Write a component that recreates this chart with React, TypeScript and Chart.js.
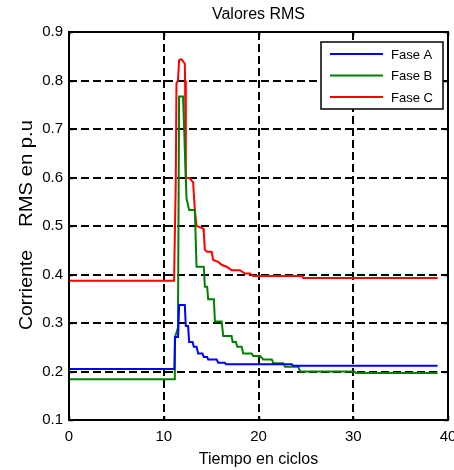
import React, { useEffect, useRef } from "react";
import { Chart, registerables } from "chart.js";

Chart.register(...registerables);

const TITLE = "Valores RMS";
const X_LABEL = "Tiempo en ciclos";
const Y_LABEL_A = "Corriente";
const Y_LABEL_B = "RMS en p.u";
const X_TICKS = [0, 10, 20, 30, 40];
const Y_TICKS = [0.1, 0.2, 0.3, 0.4, 0.5, 0.6, 0.7, 0.8, 0.9];
const SERIES_NAMES = ["Fase A", "Fase B", "Fase C"];
const SERIES_COLORS = ["#0000ff", "#008000", "#ff0000"];

const tA = [0, 11.12, 11.2, 11.51, 11.62, 12.22, 12.33, 12.57, 12.68, 13.04, 13.17, 13.46, 13.63, 14.09, 14.23, 14.58, 14.69, 15.58, 15.75, 16.46, 16.56, 23.51, 23.68, 38.9];
const vA = [0.205, 0.205, 0.271, 0.271, 0.337, 0.337, 0.294, 0.294, 0.261, 0.261, 0.251, 0.251, 0.237, 0.237, 0.23, 0.23, 0.225, 0.225, 0.218, 0.218, 0.215, 0.215, 0.212, 0.212];

const tB = [0, 11.1, 11.17, 11.5, 11.62, 12.04, 12.22, 12.33, 12.4, 12.68, 13.28, 13.46, 14.23, 14.34, 14.58, 14.69, 15.29, 15.4, 16.11, 16.28, 17.16, 17.27, 17.62, 17.76, 18.22, 18.39, 19.28, 19.45, 20.16, 20.51, 21.4, 21.57, 22.62, 22.8, 24.21, 24.39, 30.1, 30.3, 38.9];
const vB = [0.184, 0.184, 0.27, 0.29, 0.767, 0.767, 0.66, 0.6, 0.557, 0.533, 0.533, 0.416, 0.416, 0.375, 0.375, 0.349, 0.349, 0.303, 0.303, 0.273, 0.273, 0.261, 0.261, 0.251, 0.251, 0.237, 0.237, 0.232, 0.232, 0.225, 0.225, 0.217, 0.217, 0.21, 0.21, 0.2, 0.2, 0.197, 0.197];

const tC = [0, 11.09, 11.27, 11.34, 11.5, 11.62, 11.87, 12.22, 12.25, 12.33, 12.75, 13.1, 13.28, 13.46, 14.16, 14.23, 14.34, 14.58, 15.05, 15.22, 15.75, 16.11, 16.63, 17.16, 18.04, 18.57, 19.1, 19.45, 24.57, 24.74, 38.9];
const vC = [0.387, 0.387, 0.595, 0.794, 0.8, 0.842, 0.844, 0.835, 0.8, 0.6, 0.598, 0.59, 0.533, 0.5, 0.495, 0.485, 0.451, 0.447, 0.447, 0.43, 0.426, 0.42, 0.416, 0.409, 0.409, 0.402, 0.402, 0.397, 0.397, 0.393, 0.393];

const FONT = "'Liberation Sans', Arial, Helvetica, sans-serif";

const toPoints = (t: number[], v: number[]) => t.map((x, i) => ({ x, y: v[i] }));

const decorPlugin = {
  id: "decor",
  beforeDatasetsDraw(chart: any) {
    const { ctx, chartArea: a, scales } = chart;
    ctx.save();
    ctx.strokeStyle = "#000";
    ctx.lineWidth = 2;
    ctx.setLineDash([8, 4]);
    X_TICKS.slice(1, -1).forEach((t) => {
      const x = Math.round(scales.x.getPixelForValue(t));
      ctx.beginPath();
      ctx.moveTo(x, a.top);
      ctx.lineTo(x, a.bottom);
      ctx.stroke();
    });
    Y_TICKS.slice(1, -1).forEach((t) => {
      const y = Math.round(scales.y.getPixelForValue(t));
      ctx.beginPath();
      ctx.moveTo(a.left, y);
      ctx.lineTo(a.right, y);
      ctx.stroke();
    });
    ctx.restore();
  },
  afterDatasetsDraw(chart: any) {
    const { ctx, chartArea: a, scales } = chart;
    ctx.save();
    ctx.setLineDash([]);
    ctx.strokeStyle = "#000";
    // tick marks inside
    ctx.lineWidth = 1.5;
    X_TICKS.forEach((t) => {
      const x = Math.round(scales.x.getPixelForValue(t)) + 0.5;
      ctx.beginPath();
      ctx.moveTo(x, a.bottom);
      ctx.lineTo(x, a.bottom - 4);
      ctx.moveTo(x, a.top);
      ctx.lineTo(x, a.top + 4);
      ctx.stroke();
    });
    Y_TICKS.forEach((t) => {
      const y = Math.round(scales.y.getPixelForValue(t)) + 0.5;
      ctx.beginPath();
      ctx.moveTo(a.left, y);
      ctx.lineTo(a.left + 4, y);
      ctx.moveTo(a.right, y);
      ctx.lineTo(a.right - 4, y);
      ctx.stroke();
    });
    // frame
    ctx.lineWidth = 2;
    ctx.strokeRect(a.left, a.top, a.right - a.left, a.bottom - a.top);

    // legend
    const lx = 321, ly = 42, lw = 122, lh = 67;
    ctx.fillStyle = "#fff";
    ctx.fillRect(lx, ly, lw, lh);
    ctx.lineWidth = 1.5;
    ctx.strokeStyle = "#000";
    ctx.strokeRect(lx, ly, lw, lh);
    ctx.font = `13px ${FONT}`;
    ctx.textBaseline = "middle";
    ctx.textAlign = "left";
    chart.data.datasets.forEach((ds: any, i: number) => {
      const y = 54 + i * 21.5;
      ctx.strokeStyle = ds.borderColor;
      ctx.lineWidth = 2;
      ctx.beginPath();
      ctx.moveTo(330, y);
      ctx.lineTo(383, y);
      ctx.stroke();
      ctx.fillStyle = "#000";
      ctx.fillText(ds.label, 391, y + 1);
    });

    // title
    ctx.fillStyle = "#000";
    ctx.font = `16px ${FONT}`;
    ctx.textAlign = "center";
    ctx.textBaseline = "middle";
    ctx.fillText(TITLE, (a.left + a.right) / 2, 15);
    // x label
    ctx.fillText(X_LABEL, (a.left + a.right) / 2, 460);
    // y label (rotated)
    ctx.save();
    ctx.translate(32, 0);
    ctx.rotate(-Math.PI / 2);
    ctx.textAlign = "left";
    ctx.textBaseline = "alphabetic";
    ctx.font = `19px ${FONT}`;
    const wA = ctx.measureText(Y_LABEL_A).width;
    ctx.save();
    ctx.translate(-330, 0);
    ctx.scale(80 / wA, 1);
    ctx.fillText(Y_LABEL_A, 0, 0);
    ctx.restore();
    const wB = ctx.measureText(Y_LABEL_B).width;
    ctx.save();
    ctx.translate(-227, 0);
    ctx.scale(107 / wB, 1);
    ctx.fillText(Y_LABEL_B, 0, 0);
    ctx.restore();
    ctx.restore();
    ctx.restore();
  },
};

export default function App() {
  const ref = useRef<HTMLCanvasElement | null>(null);
  useEffect(() => {
    if (!ref.current) return;
    const chart = new Chart(ref.current, {
      type: "line",
      data: {
        datasets: [
          { label: SERIES_NAMES[0], data: toPoints(tA, vA), borderColor: SERIES_COLORS[0] },
          { label: SERIES_NAMES[1], data: toPoints(tB, vB), borderColor: SERIES_COLORS[1] },
          { label: SERIES_NAMES[2], data: toPoints(tC, vC), borderColor: SERIES_COLORS[2] },
        ].map((d) => ({ ...d, borderWidth: 2, pointRadius: 0, tension: 0, fill: false, backgroundColor: d.borderColor })),
      },
      options: {
        responsive: false,
        animation: false,
        events: [],
        layout: { padding: { top: 32, right: 6, left: 0, bottom: 0 } },
        plugins: { legend: { display: false }, tooltip: { enabled: false }, title: { display: false } },
        scales: {
          x: {
            type: "linear",
            min: 0,
            max: 40,
            afterBuildTicks: (s: any) => { s.ticks = X_TICKS.map((v) => ({ value: v })); },
            afterFit: (s: any) => { s.height = 50; s.paddingLeft = 0; s.paddingRight = 0; },
            grid: { display: false, drawTicks: false },
            border: { display: false },
            ticks: { color: "#000", font: { family: FONT, size: 15 }, padding: 8, maxRotation: 0, autoSkip: false, callback: (v: any) => String(v) },
          },
          y: {
            type: "linear",
            min: 0.1,
            max: 0.9,
            afterBuildTicks: (s: any) => { s.ticks = Y_TICKS.map((v) => ({ value: v })); },
            afterFit: (s: any) => { s.width = 69; s.paddingTop = 0; s.paddingBottom = 0; },
            grid: { display: false, drawTicks: false },
            border: { display: false },
            ticks: { color: "#000", font: { family: FONT, size: 15 }, padding: 6, autoSkip: false, callback: (v: any) => Number(v).toFixed(1) },
          },
        },
      },
      plugins: [decorPlugin],
    } as any);
    return () => chart.destroy();
  }, []);
  return (
    <div style={{ position: "absolute", left: 0, top: 0, width: 454, height: 470, background: "#fff" }}>
      <canvas ref={ref} width={454} height={470} style={{ display: "block", width: 454, height: 470 }} />
    </div>
  );
}
